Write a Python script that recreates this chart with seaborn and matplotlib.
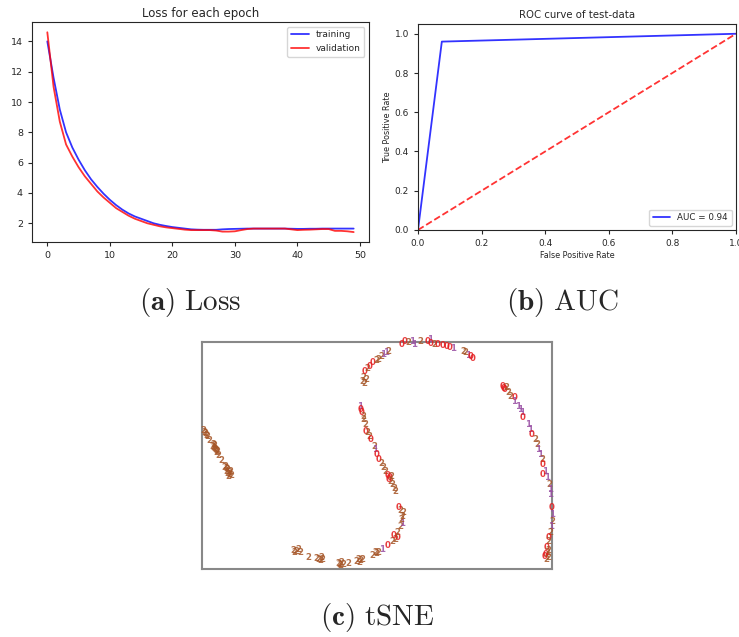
import numpy as np
import matplotlib
matplotlib.use("Agg")
import matplotlib.pyplot as plt
import seaborn as sns

# loss per epoch
epochs = np.arange(50)
train_loss = [14.0, 11.6, 9.5, 8.0, 7.0, 6.2, 5.5, 4.9, 4.4, 3.95,
              3.55, 3.2, 2.9, 2.65, 2.45, 2.3, 2.15, 2.0, 1.9, 1.82,
              1.75, 1.7, 1.65, 1.6, 1.58, 1.57, 1.57, 1.57, 1.6, 1.62,
              1.63, 1.64, 1.65, 1.65, 1.65, 1.65, 1.65, 1.65, 1.65, 1.64,
              1.63, 1.63, 1.64, 1.64, 1.65, 1.65, 1.65, 1.65, 1.65, 1.65]
val_loss = [14.6, 11.0, 8.7, 7.2, 6.4, 5.7, 5.1, 4.6, 4.1, 3.7,
            3.35, 3.0, 2.75, 2.5, 2.3, 2.15, 2.0, 1.9, 1.8, 1.73,
            1.68, 1.63, 1.58, 1.55, 1.55, 1.55, 1.55, 1.52, 1.45, 1.45,
            1.47, 1.55, 1.62, 1.65, 1.65, 1.65, 1.65, 1.65, 1.65, 1.6,
            1.55, 1.57, 1.58, 1.6, 1.62, 1.62, 1.5, 1.5, 1.47, 1.42]

# roc curve
fpr = [0.0, 0.075, 1.0]
tpr = [0.0, 0.96, 1.0]
auc_value = 0.94

# tSNE embedding (label shown as digit)
tsne_x = [1, 3, 5, 7, 10, 11, 12, 13, 14, 15, 16, 19, 23, 24, 25, 27, 29, 26,
          91, 94, 98, 106, 114, 118, 120, 136, 138, 141, 146, 154, 158, 160, 170, 174, 176,
          173, 180, 186, 190, 192, 193, 196, 195, 198, 200, 199, 200, 201, 198, 197,
          158, 159, 160, 161, 161, 163, 164, 165, 167, 169, 172, 173, 175, 177, 179, 181, 183, 186, 188, 188, 190, 192, 193,
          160, 161, 163, 165, 168, 171, 174, 176, 179, 181, 184, 186,
          200, 203, 206, 210, 212, 218, 226, 228, 229, 232, 236, 241, 245, 248, 251, 261, 263, 266, 269, 271,
          301, 303, 306, 308, 313, 312, 316, 318, 320, 321, 326, 328, 330, 333, 335, 336, 338, 340, 341, 343,
          341, 345, 347, 348, 348, 350, 350, 350, 349, 348, 347, 346, 345, 345, 343, 346,
          2, 4, 11, 12, 14, 25, 27, 28, 24, 22,
          92, 96, 116, 119, 137, 139, 156, 157,
          344, 346, 344, 302, 304, 162, 164, 187, 189]
tsne_y = [138, 135, 132, 128, 122, 124, 120, 119, 116, 117, 113, 108, 102, 97, 99, 96, 93, 92,
          18, 17, 16, 11, 10, 8, 9, 5, 3, 4, 5, 7, 8, 9, 13, 15, 16,
          16, 19, 23, 27, 33, 29, 31, 36, 42, 45, 49, 52, 56, 58, 61,
          162, 159, 156, 152, 149, 144, 137, 136, 132, 129, 122, 119, 114, 109, 105, 101, 97, 93, 91, 87, 84, 80, 77,
          187, 191, 197, 200, 202, 206, 208, 209, 212, 214, 216, 217,
          224, 227, 226, 227, 224, 227, 227, 229, 225, 224, 224, 223, 222, 221, 220, 217, 216, 213, 212, 210,
          182, 179, 176, 172, 171, 167, 162, 159, 156, 151, 144, 139, 134, 129, 124, 119, 114, 109, 104, 97,
          94, 91, 84, 79, 74, 61, 54, 47, 42, 36, 31, 27, 21, 16, 12, 11,
          136, 133, 121, 123, 118, 95, 94, 97, 100, 101,
          16, 19, 9, 11, 4, 6, 9, 6,
          14, 18, 9, 180, 181, 185, 189, 89, 92]
tsne_label = [2, 2, 2, 2, 2, 2, 2, 2, 2, 2, 2, 2, 2, 2, 2, 2, 2, 2,
              2, 2, 2, 2, 2, 2, 2, 2, 2, 2, 2, 2, 2, 2, 2, 2, 2,
              2, 1, 0, 2, 0, 2, 0, 2, 2, 1, 2, 2, 2, 2, 0,
              1, 0, 0, 2, 2, 2, 0, 2, 2, 0, 2, 1, 0, 0, 2, 2, 2, 0, 0, 2, 2, 2, 2,
              2, 2, 0, 2, 0, 0, 2, 2, 2, 1, 1, 2,
              0, 0, 2, 1, 1, 2, 0, 1, 0, 2, 0, 0, 0, 0, 1, 2, 2, 1, 0, 0,
              0, 0, 2, 2, 0, 1, 1, 1, 1, 0, 1, 1, 0, 2, 2, 1, 1, 2, 0, 1,
              0, 1, 2, 1, 1, 0, 1, 2, 1, 2, 0, 2, 0, 2, 0, 2,
              2, 2, 2, 2, 2, 2, 2, 2, 2, 2,
              2, 2, 2, 2, 2, 2, 2, 2,
              0, 2, 2, 0, 2, 2, 2, 0, 2]

captions = [r"$\mathbf{(a)}\ \mathrm{Loss}$", r"$\mathbf{(b)}\ \mathrm{AUC}$", r"$\mathbf{(c)}\ \mathrm{tSNE}$"]

sns.set_style("ticks")
plt.rcParams['mathtext.fontset'] = 'cm'

fig = plt.figure(figsize=(7.39, 6.37), dpi=100)

# Loss
ax1 = fig.add_axes([0.0433, 0.620, 0.456, 0.345])
sns.lineplot(x=epochs, y=train_loss, color='blue', alpha=0.8, linewidth=1.3, label='training', ax=ax1)
sns.lineplot(x=epochs, y=val_loss, color='red', alpha=0.8, linewidth=1.3, label='validation', ax=ax1)
ax1.set_title('Loss for each epoch', fontsize=8.5, pad=4)
ax1.tick_params(labelsize=6.8, length=3, width=0.8)
ax1.set_xticks([0, 10, 20, 30, 40, 50])
ax1.set_yticks([2, 4, 6, 8, 10, 12, 14])
ax1.legend(loc='upper right', fontsize=6.5, frameon=True, fancybox=True, handlelength=2)

# ROC
ax2 = fig.add_axes([0.5656, 0.639, 0.4303, 0.3234])
sns.lineplot(x=fpr, y=tpr, color='blue', alpha=0.8, linewidth=1.3, label='AUC = %0.2f' % auc_value, ax=ax2)
sns.lineplot(x=[0, 1], y=[0, 1], color='red', alpha=0.8, linewidth=1.3, linestyle='--', ax=ax2)
ax2.set_xlim(0, 1)
ax2.set_ylim(0, 1.05)
ax2.set_title('ROC curve of test-data', fontsize=7.3, pad=4)
ax2.set_xlabel('False Positive Rate', fontsize=5.8, labelpad=2)
ax2.set_ylabel('True Positive Rate', fontsize=5.8, labelpad=2)
ax2.tick_params(labelsize=6.5, length=3, width=0.8)
ax2.legend(loc='lower right', fontsize=6.3, handlelength=2)

# tSNE
ax3 = fig.add_axes([0.2733, 0.1068, 0.4736, 0.3564])
pal = plt.cm.Set1
for x, y, lab in zip(tsne_x, tsne_y, tsne_label):
    ax3.text(x, y, str(lab), color=pal(lab / 3.), fontsize=6.2, fontweight='bold',
             ha='center', va='center', clip_on=False, alpha=0.85)
ax3.set_xlim(0, 350)
ax3.set_ylim(0, 227)
ax3.set_xticks([])
ax3.set_yticks([])
for sp in ax3.spines.values():
    sp.set_color('#888888')
    sp.set_linewidth(1.5)

fig.text(0.257, 0.525, captions[0], fontsize=21, ha='center', va='center')
fig.text(0.761, 0.525, captions[1], fontsize=21, ha='center', va='center')
fig.text(0.510, 0.031, captions[2], fontsize=21, ha='center', va='center')

fig.savefig('out.png', dpi=100)
